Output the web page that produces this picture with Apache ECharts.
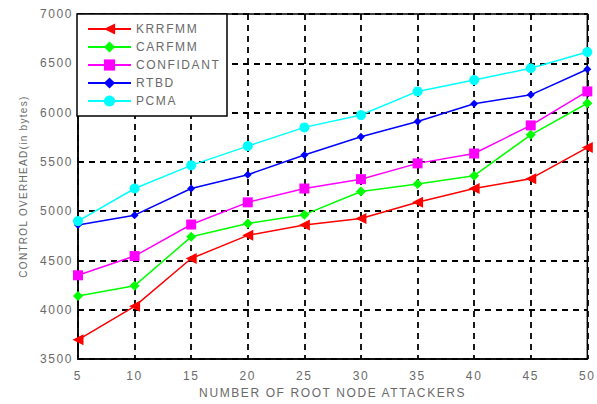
<!DOCTYPE html>
<html>
<head>
<meta charset="utf-8">
<script src="https://cdn.jsdelivr.net/npm/echarts@6/dist/echarts.min.js"></script>
<style>
html,body{margin:0;padding:0;background:#fff;}
#chart{width:597px;height:404px;}
#chart text{letter-spacing:1.6px;}
</style>
</head>
<body>
<div id="chart"></div>
<script>
// Number of root node attackers
const attackers = [5, 10, 15, 20, 25, 30, 35, 40, 45, 50];

// Control overhead (in bytes) per scheme
const krrfmm    = [3695, 4035, 4520, 4755, 4860, 4925, 5090, 5230, 5330, 5645];
const carfmm    = [4140, 4245, 4740, 4875, 4965, 5200, 5275, 5360, 5775, 6095];
const confidant = [4350, 4545, 4865, 5090, 5230, 5325, 5485, 5585, 5870, 6215];
const rtbd      = [4860, 4960, 5230, 5370, 5570, 5755, 5910, 6090, 6180, 6440];
const pcma      = [4900, 5230, 5465, 5660, 5850, 5975, 6215, 6330, 6450, 6615];

const seriesNames = ['KRRFMM', 'CARFMM', 'CONFIDANT', 'RTBD', 'PCMA'];

const pair = ys => attackers.map((x, i) => [x, ys[i]]);

const textGray = '#6a6a6a';
const fontFam = 'Liberation Sans, Arial, sans-serif';
const yTitle = 'CONTROL OVERHEAD(in bytes)';

function line(name, data, color, symbol, size, rotate) {
  return {
    name: name,
    type: 'line',
    data: pair(data),
    symbol: symbol,
    symbolSize: size,
    symbolRotate: rotate || 0,
    lineStyle: { color: color, width: 1.5 },
    itemStyle: { color: color },
    showAllSymbol: true,
    z: 3
  };
}

const gridDash = { color: '#000', type: [6, 5], width: 1.8 };

const chart = echarts.init(document.getElementById('chart'), null, { renderer: 'svg' });
chart.setOption({
  animation: false,
  backgroundColor: '#fff',
  grid: {
    left: 78, right: 8, top: 14, bottom: 37,
    show: true, borderColor: '#000', borderWidth: 1.5, backgroundColor: 'transparent'
  },
  xAxis: {
    type: 'value', min: 5, max: 50, interval: 5,
    name: 'NUMBER OF ROOT NODE ATTACKERS',
    nameLocation: 'middle', nameGap: 27,
    nameTextStyle: { color: textGray, fontSize: 12, fontFamily: fontFam },
    axisLine: { show: true, lineStyle: { color: '#000', width: 1.5 } },
    axisTick: { show: false },
    axisLabel: { color: textGray, fontSize: 12, fontFamily: fontFam, margin: 11 },
    splitLine: { show: true, lineStyle: gridDash }
  },
  yAxis: {
    type: 'value', min: 3500, max: 7000, interval: 500,
    name: yTitle,
    nameLocation: 'middle', nameGap: 50, nameRotate: 90,
    nameTextStyle: { color: textGray, fontSize: 10, fontFamily: fontFam },
    axisLine: { show: true, lineStyle: { color: '#000', width: 1.5 } },
    axisTick: { show: false },
    axisLabel: { color: textGray, fontSize: 12, fontFamily: fontFam, margin: 5, formatter: v => String(v) },
    splitLine: { show: true, lineStyle: gridDash }
  },
  legend: {
    data: seriesNames,
    orient: 'vertical',
    left: 77, top: 14,
    padding: [9, 21, 9, 10],
    itemWidth: 43, itemHeight: 14, itemGap: 6,
    backgroundColor: '#fff',
    borderColor: '#000', borderWidth: 1.5, borderRadius: 0,
    textStyle: { color: textGray, fontSize: 12, fontFamily: fontFam },
    z: 10
  },
  series: [
    line('KRRFMM', krrfmm, '#ff0000', 'triangle', 11, 90),
    line('CARFMM', carfmm, '#00ff00', 'diamond', 10),
    line('CONFIDANT', confidant, '#ff00ff', 'rect', 10),
    line('RTBD', rtbd, '#0000ff', 'diamond', 8),
    line('PCMA', pcma, '#00ffff', 'circle', 10)
  ]
});

// The vertical axis title uses tighter spacing than the other labels
document.querySelectorAll('#chart text').forEach(t => {
  if (t.textContent === yTitle) t.style.letterSpacing = '1.3px';
});
</script>
</body>
</html>
